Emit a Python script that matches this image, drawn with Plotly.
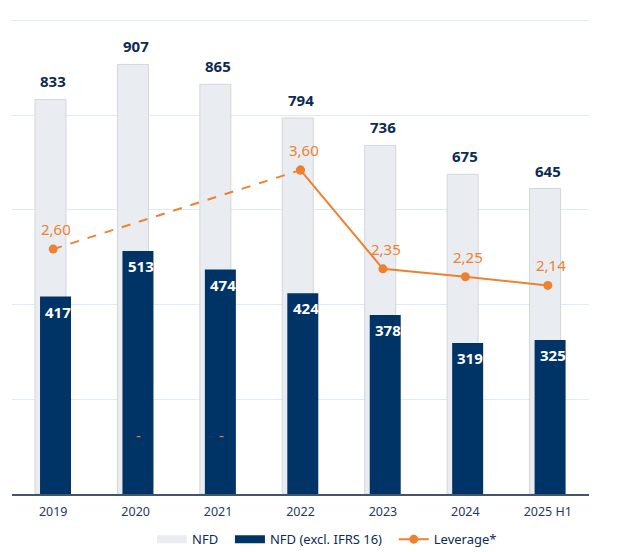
import plotly.graph_objects as go

years = ["2019", "2020", "2021", "2022", "2023", "2024", "2025 H1"]
nfd = [833, 907, 865, 794, 736, 675, 645]
nfd_excl = [417, 513, 474, 424, 378, 319, 325]
leverage = [2.60, None, None, 3.60, 2.35, 2.25, 2.14]

NAVY = "#003366"
LIGHT = "#E9ECF1"
ORANGE = "#EE8130"
FONT = "Noto Sans"
SP = "\u00a0"


def fmt(v):
    return f"{v:.2f}".replace(".", ",")


fig = go.Figure()

# bars (legend drawn by dummy traces below so the swatches are wide)
fig.add_trace(go.Bar(x=years, y=nfd, name="NFD", width=0.376, offset=-0.221,
                     marker=dict(color=LIGHT, line=dict(color="#D3D6DB", width=1)),
                     showlegend=False, hoverinfo="skip"))
fig.add_trace(go.Bar(x=years, y=nfd_excl, name="NFD (excl. IFRS 16)", width=0.376, offset=-0.16,
                     marker=dict(color=NAVY, line=dict(width=0)),
                     showlegend=False, hoverinfo="skip"))

# leverage: dashed across the years without data, solid from 2022 on
known = [(x, v) for x, v in zip(years, leverage) if v is not None]
fig.add_trace(go.Scatter(x=[known[0][0], known[1][0]], y=[known[0][1], known[1][1]],
                         mode="lines+markers", yaxis="y2",
                         line=dict(color=ORANGE, width=2, dash="dash"),
                         marker=dict(size=9, color=ORANGE), showlegend=False))
fig.add_trace(go.Scatter(x=[k[0] for k in known[1:]], y=[k[1] for k in known[1:]],
                         mode="lines+markers", yaxis="y2",
                         line=dict(color=ORANGE, width=2),
                         marker=dict(size=9, color=ORANGE), showlegend=False))

# legend entries
fig.add_trace(go.Scatter(x=[None], y=[None], mode="lines", name="NFD" + SP * 2,
                         line=dict(color=LIGHT, width=8)))
fig.add_trace(go.Scatter(x=[None], y=[None], mode="lines",
                         name="NFD (excl. IFRS 16)" + SP * 2,
                         line=dict(color=NAVY, width=8)))
fig.add_trace(go.Scatter(x=[None], y=[None], mode="lines+markers", name="Leverage*",
                         line=dict(color=ORANGE, width=2), marker=dict(size=9, color=ORANGE)))

# annotations use the category index as x
ann = []
for i, v in enumerate(nfd):
    ann.append(dict(x=i, y=v, text=f"<b>{v}</b>", showarrow=False, yanchor="bottom",
                    yshift=6, font=dict(family=FONT, size=15, color="#0D2C54")))
for i, v in enumerate(nfd_excl):
    ann.append(dict(x=i, y=v, text=f"<b>{v}</b>", showarrow=False, yanchor="top",
                    yshift=-3, xshift=5, font=dict(family=FONT, size=15, color="white")))
for i, v in enumerate(leverage):
    ann.append(dict(x=i, y=v if v is not None else 0, yref="y2",
                    text=fmt(v) if v is not None else "-", showarrow=False,
                    yanchor="bottom", yshift=8, xshift=3,
                    font=dict(family=FONT, size=15, color=ORANGE)))

# page body has an 8px margin, so the figure is sized to fit the window
fig.update_layout(
    width=620, height=544,
    margin=dict(l=4, r=39, t=10, b=58, autoexpand=False),
    paper_bgcolor="white", plot_bgcolor="white",
    barmode="overlay",
    font=dict(family=FONT, size=12, color="#1F3A5F"),
    xaxis=dict(type="category", range=[-0.5, 6.5], showline=True, linecolor="#44546A",
               linewidth=1.5, showgrid=False, ticks="outside", ticklen=5,
               tickcolor="rgba(0,0,0,0)",
               tickfont=dict(family=FONT, size=12.5, color="#1F3A5F")),
    yaxis=dict(range=[0, 1005], dtick=200, showgrid=True, gridcolor="#DDEBF7",
               gridwidth=1, showticklabels=False, zeroline=False),
    yaxis2=dict(range=[-0.5, 5.525], overlaying="y", side="right", visible=False,
                showgrid=False),
    legend=dict(orientation="h", x=0.546, xanchor="center", y=-0.095, yanchor="middle",
                font=dict(family=FONT, size=13, color="#0D2C54"), itemwidth=30),
    annotations=ann,
    showlegend=True,
)

fig.write_html("out.html")
